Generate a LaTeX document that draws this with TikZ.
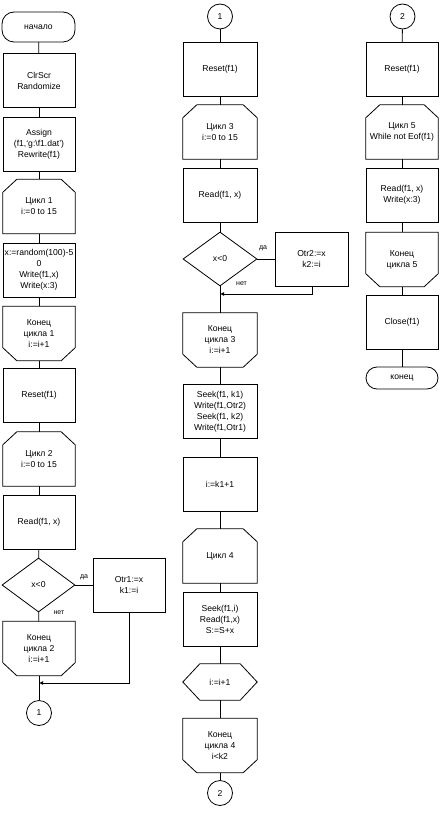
\documentclass[tikz,border=0pt]{standalone}
\usepackage{fontspec}
\setmainfont{Liberation Sans}
\usetikzlibrary{shapes.geometric,arrows.meta}
\tikzset{
  every node/.style={font=\fontsize{8.6}{11}\selectfont, align=center, inner sep=0pt},
  box/.style={draw, line width=0.8pt, minimum width=72pt, minimum height=54pt},
  wbox/.style={box, minimum width=74pt},
  ghost/.style={minimum width=72pt, minimum height=54pt},
  wghost/.style={ghost, minimum width=74pt},
  term/.style={draw, line width=0.8pt, rounded corners=11pt, minimum width=72pt, minimum height=28pt},
  cond/.style={draw, line width=0.8pt, diamond, minimum width=73pt, minimum height=54pt},
  conn/.style={draw, line width=0.8pt, circle, minimum size=25pt},
  lab/.style={font=\fontsize{7}{8}\selectfont},
  line/.style={line width=0.8pt},
  merge/.style={line width=0.8pt, -{Latex[length=4pt,width=4pt]}}
}
\newcommand\chamtop[1]{\draw[line width=0.8pt] ([xshift=14pt]#1.north west) -- ([xshift=-14pt]#1.north east) -- ([yshift=-13pt]#1.north east) -- (#1.south east) -- (#1.south west) -- ([yshift=-13pt]#1.north west) -- cycle;}
\newcommand\chambot[1]{\draw[line width=0.8pt] (#1.north west) -- (#1.north east) -- ([yshift=13pt]#1.south east) -- ([xshift=-14pt]#1.south east) -- ([xshift=14pt]#1.south west) -- ([yshift=13pt]#1.south west) -- cycle;}
\begin{document}
\begin{tikzpicture}[x=1pt,y=-1pt]
\useasboundingbox (0,0) rectangle (442,813);
% ---------- column 1
\node[term, minimum width=73pt, minimum height=30pt, rounded corners=12pt] (start) at (38.5,27) {начало};
\node[box] (clr) at (39,80.5) {ClrScr\\Randomize};
\node[box] (asg) at (39,144.5) {Assign\\(f1,`g:\textbackslash f1.dat')\\Rewrite(f1)};
\node[ghost] (c1) at (39,206.5) {Цикл 1\\i:=0 to 15};
\chamtop{c1}
\node[box] (rnd) at (39,270) {x:=random(100)-5\\0\\Write(f1,x)\\Write(x:3)};
\node[ghost] (e1) at (39,333.5) {Конец\\цикла 1\\i:=i+1};
\chambot{e1}
\node[box] (rs1) at (39,395.5) {Reset(f1)};
\node[ghost] (c2) at (39,459) {Цикл 2\\i:=0 to 15};
\chamtop{c2}
\node[box] (rd1) at (39,522) {Read(f1, x)};
\node[cond] (d1) at (38.5,585) {x<0};
\node[box] (o1) at (129,585) {Otr1:=x\\k1:=i};
\node[ghost] (e2) at (39,648.5) {Конец\\цикла 2\\i:=i+1};
\chambot{e2}
\coordinate (m1) at (39,683);
\coordinate (m1r) at (129,683);
\node[conn] (k1) at (39,713) {1};
\draw[line] (start) -- (clr);
\draw[line] (clr) -- (asg);
\draw[line] (asg) -- (c1);
\draw[line] (c1) -- (rnd);
\draw[line] (rnd) -- (e1);
\draw[line] (e1) -- (rs1);
\draw[line] (rs1) -- (c2);
\draw[line] (c2) -- (rd1);
\draw[line] (rd1) -- (d1);
\draw[line] (d1) -- (e2);
\draw[line] (d1) -- (o1);
\draw[line] (e2) -- (k1);
\draw[merge] (o1.south) -- (m1r) -- (m1);
\node[lab] (y1) at (84,577) {да};
\node[lab] (n1) at (59,612.5) {нет};
% ---------- column 2
\node[conn] (k1b) at (220,16.5) {1};
\node[wbox] (rs2) at (220,69) {Reset(f1)};
\node[wghost] (c3) at (220,132) {Цикл 3\\i:=0 to 15};
\chamtop{c3}
\node[wbox] (rd2) at (220,195.5) {Read(f1, x)};
\node[cond, minimum width=74pt] (d2) at (220,259) {x<0};
\node[box, minimum width=73pt] (o2) at (311.5,259) {Otr2:=x\\k2:=i};
\coordinate (m2) at (220,294);
\coordinate (m2r) at (312,294);
\node[wghost] (e3) at (220,340) {Конец\\цикла 3\\i:=i+1};
\chambot{e3}
\node[wbox] (sk) at (220,411.5) {Seek(f1, k1)\\Write(f1,Otr2)\\Seek(f1, k2)\\Write(f1,Otr1)};
\node[wbox] (ik) at (220,484) {i:=k1+1};
\node[wghost] (c4) at (220,556) {Цикл 4};
\chamtop{c4}
\node[wbox] (sk2) at (220,619) {Seek(f1,i)\\Read(f1,x)\\S:=S+x};
\node[minimum width=74pt, minimum height=36pt] (hx) at (220,682) {i:=i+1};
\draw[line] (hx.west) -- ([xshift=17pt]hx.north west) -- ([xshift=-17pt]hx.north east) -- (hx.east) -- ([xshift=-17pt]hx.south east) -- ([xshift=17pt]hx.south west) -- cycle;
\node[wghost] (e4) at (220,745.5) {Конец\\цикла 4\\i<k2};
\chambot{e4}
\node[conn] (k2) at (220,793) {2};
\draw[line] (k1b) -- (rs2);
\draw[line] (rs2) -- (c3);
\draw[line] (c3) -- (rd2);
\draw[line] (rd2) -- (d2);
\draw[line] (d2) -- (o2);
\draw[line] (d2) -- (e3);
\draw[merge] (o2.south -| m2r) -- (m2r) -- (m2);
\draw[line] (e3) -- (sk);
\draw[line] (sk) -- (ik);
\draw[line] (ik) -- (c4);
\draw[line] (c4) -- (sk2);
\draw[line] (sk2) -- (hx);
\draw[line] (hx) -- (e4);
\draw[line] (e4) -- (k2);
\node[lab] (y2) at (263,248) {да};
\node[lab] (n2) at (241.5,283.5) {нет};
% ---------- column 3
\node[conn] (k2b) at (402.5,16.5) {2};
\node[box] (rs3) at (402,69.5) {Reset(f1)};
\node[ghost] (c5) at (402,132) {Цикл 5\\While not Eof(f1)};
\chamtop{c5}
\node[box] (rd3) at (402,195) {Read(f1, x)\\Write(x:3)};
\node[ghost] (e5) at (402,259.5) {Конец\\цикла 5};
\chambot{e5}
\node[box] (cl) at (402,322.5) {Close(f1)};
\node[term, minimum height=22pt] (fin) at (402,378) {конец};
\draw[line] (k2b) -- (rs3);
\draw[line] (rs3) -- (c5);
\draw[line] (c5) -- (rd3);
\draw[line] (rd3) -- (e5);
\draw[line] (e5) -- (cl);
\draw[line] (cl) -- (fin);
\end{tikzpicture}
\end{document}
